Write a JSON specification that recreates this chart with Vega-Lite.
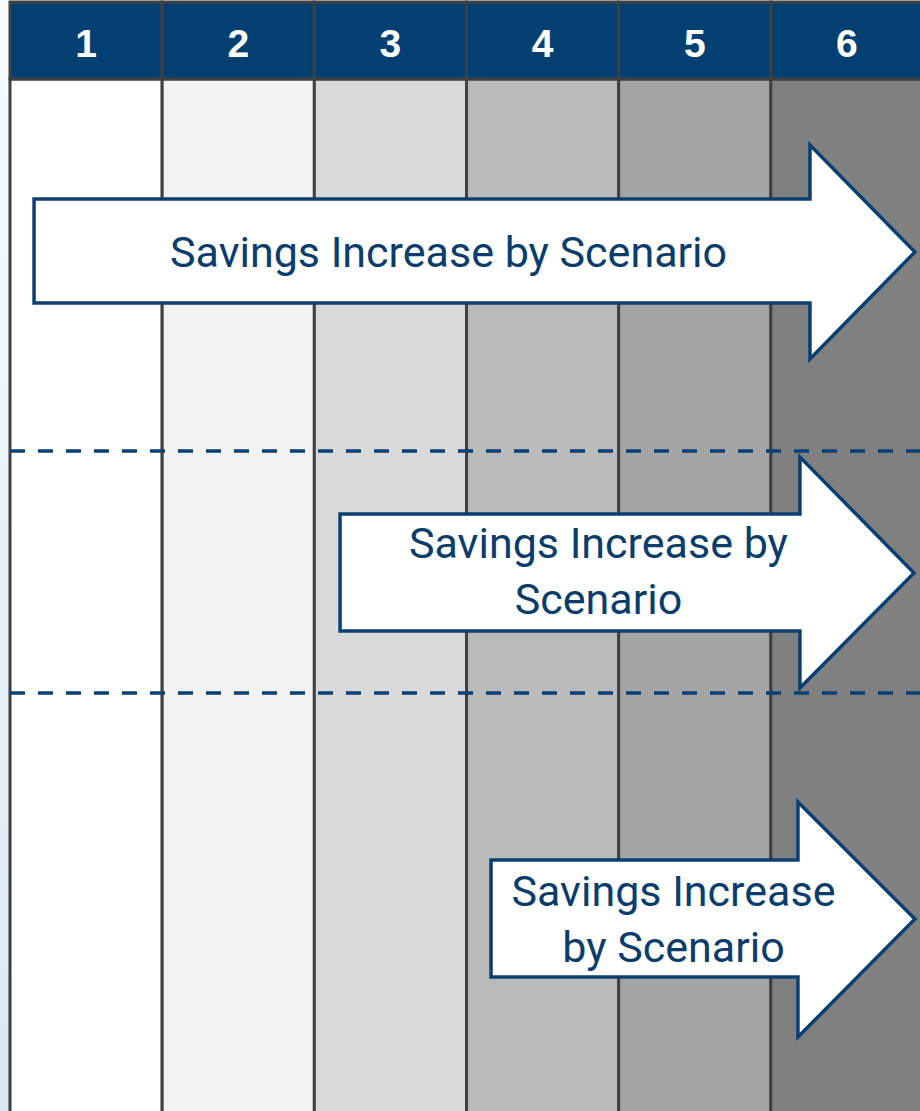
{
  "$schema": "https://vega.github.io/schema/vega-lite/v6.json",
  "width": 920,
  "height": 1111,
  "autosize": {"type": "none"},
  "padding": 0,
  "background": "white",
  "config": {"view": {"stroke": null}},
  "datasets": {
    "cols": [
      {"col": 1, "x0": 0, "x1": 1, "mid": 0.5, "label": "1"},
      {"col": 2, "x0": 1, "x1": 2, "mid": 1.5, "label": "2"},
      {"col": 3, "x0": 2, "x1": 3, "mid": 2.5, "label": "3"},
      {"col": 4, "x0": 3, "x1": 4, "mid": 3.5, "label": "4"},
      {"col": 5, "x0": 4, "x1": 5, "mid": 4.5, "label": "5"},
      {"col": 6, "x0": 5, "x1": 6, "mid": 5.5, "label": "6"}
    ],
    "arrows": [
      {"arrow": 1, "i": 1, "x": 0.158, "y": 199},
      {"arrow": 1, "i": 2, "x": 5.257, "y": 199},
      {"arrow": 1, "i": 3, "x": 5.257, "y": 145},
      {"arrow": 1, "i": 4, "x": 5.947, "y": 252},
      {"arrow": 1, "i": 5, "x": 5.257, "y": 359},
      {"arrow": 1, "i": 6, "x": 5.257, "y": 303},
      {"arrow": 1, "i": 7, "x": 0.158, "y": 303},
      {"arrow": 2, "i": 1, "x": 2.169, "y": 514},
      {"arrow": 2, "i": 2, "x": 5.191, "y": 514},
      {"arrow": 2, "i": 3, "x": 5.191, "y": 457},
      {"arrow": 2, "i": 4, "x": 5.941, "y": 573},
      {"arrow": 2, "i": 5, "x": 5.191, "y": 688},
      {"arrow": 2, "i": 6, "x": 5.191, "y": 631},
      {"arrow": 2, "i": 7, "x": 2.169, "y": 631},
      {"arrow": 3, "i": 1, "x": 3.161, "y": 860},
      {"arrow": 3, "i": 2, "x": 5.178, "y": 860},
      {"arrow": 3, "i": 3, "x": 5.178, "y": 802},
      {"arrow": 3, "i": 4, "x": 5.947, "y": 919},
      {"arrow": 3, "i": 5, "x": 5.178, "y": 1037},
      {"arrow": 3, "i": 6, "x": 5.178, "y": 977},
      {"arrow": 3, "i": 7, "x": 3.161, "y": 977}
    ],
    "texts": [
      {"t": "Savings Increase by Scenario", "x": 2.882, "y": 267},
      {"t": "Savings Increase by", "x": 3.867, "y": 558},
      {"t": "Scenario", "x": 3.867, "y": 614},
      {"t": "Savings Increase", "x": 4.36, "y": 906},
      {"t": "by Scenario", "x": 4.36, "y": 962}
    ],
    "dashes": [{"y": 451}, {"y": 693}]
  },
  "layer": [
    {
      "data": {"values": [{"a": 1}]},
      "mark": {
        "type": "rect",
        "color": {
          "gradient": "linear", "x1": 0, "y1": 0, "x2": 0, "y2": 1,
          "stops": [{"offset": 0, "color": "#f8fbfd"}, {"offset": 1, "color": "#dae8f4"}]
        }
      },
      "encoding": {
        "x": {"datum": -0.0657, "type": "quantitative", "scale": {"domain": [-0.0657, 5.98], "nice": false, "zero": false}, "axis": null},
        "x2": {"datum": 0},
        "y": {"datum": 0, "type": "quantitative", "scale": {"domain": [0, 1111], "reverse": true, "nice": false, "zero": false}, "axis": null},
        "y2": {"datum": 1111}
      }
    },
    {
      "data": {"name": "cols"},
      "mark": {"type": "rect", "stroke": "#404040", "strokeWidth": 3},
      "encoding": {
        "x": {"field": "x0", "type": "quantitative", "scale": {"domain": [-0.0657, 5.98], "nice": false, "zero": false}, "axis": null},
        "x2": {"field": "x1"},
        "y": {"datum": 79, "type": "quantitative", "scale": {"domain": [0, 1111], "reverse": true, "nice": false, "zero": false}, "axis": null},
        "y2": {"datum": 1125},
        "fill": {"field": "col", "type": "ordinal", "scale": {"range": ["#ffffff", "#f2f2f2", "#d9d9d9", "#bababa", "#a5a5a5", "#808080"]}, "legend": null}
      }
    },
    {
      "data": {"name": "cols"},
      "mark": {"type": "rect", "fill": "#033f70", "stroke": "#404040", "strokeWidth": 3},
      "encoding": {
        "x": {"field": "x0", "type": "quantitative", "scale": {"domain": [-0.0657, 5.98], "nice": false, "zero": false}, "axis": null},
        "x2": {"field": "x1"},
        "y": {"datum": 2, "type": "quantitative", "scale": {"domain": [0, 1111], "reverse": true, "nice": false, "zero": false}, "axis": null},
        "y2": {"datum": 79}
      }
    },
    {
      "data": {"name": "cols"},
      "mark": {"type": "text", "font": "Liberation Sans", "fontWeight": "bold", "fontSize": 39, "color": "white", "baseline": "alphabetic", "align": "center"},
      "encoding": {
        "x": {"field": "mid", "type": "quantitative", "scale": {"domain": [-0.0657, 5.98], "nice": false, "zero": false}, "axis": null},
        "y": {"datum": 57, "type": "quantitative", "scale": {"domain": [0, 1111], "reverse": true, "nice": false, "zero": false}, "axis": null},
        "text": {"field": "label"}
      }
    },
    {
      "data": {"name": "dashes"},
      "mark": {"type": "rule", "color": "#0a3f72", "strokeWidth": 3.5, "strokeDash": [15, 13]},
      "encoding": {
        "x": {"datum": 0, "type": "quantitative", "scale": {"domain": [-0.0657, 5.98], "nice": false, "zero": false}, "axis": null},
        "x2": {"datum": 5.98},
        "y": {"field": "y", "type": "quantitative", "scale": {"domain": [0, 1111], "reverse": true, "nice": false, "zero": false}, "axis": null}
      }
    },
    {
      "data": {"name": "arrows"},
      "mark": {"type": "line", "interpolate": "linear-closed", "fill": "white", "stroke": "#0b3f73", "strokeWidth": 3.5, "strokeJoin": "miter", "strokeMiterLimit": 10},
      "encoding": {
        "x": {"field": "x", "type": "quantitative", "scale": {"domain": [-0.0657, 5.98], "nice": false, "zero": false}, "axis": null},
        "y": {"field": "y", "type": "quantitative", "scale": {"domain": [0, 1111], "reverse": true, "nice": false, "zero": false}, "axis": null},
        "detail": {"field": "arrow", "type": "nominal"},
        "order": {"field": "i", "type": "quantitative"}
      }
    },
    {
      "data": {"name": "texts"},
      "mark": {"type": "text", "font": "Roboto", "fontSize": 43, "color": "#0a3d6b", "baseline": "alphabetic", "align": "center"},
      "encoding": {
        "x": {"field": "x", "type": "quantitative", "scale": {"domain": [-0.0657, 5.98], "nice": false, "zero": false}, "axis": null},
        "y": {"field": "y", "type": "quantitative", "scale": {"domain": [0, 1111], "reverse": true, "nice": false, "zero": false}, "axis": null},
        "text": {"field": "t"}
      }
    }
  ]
}
